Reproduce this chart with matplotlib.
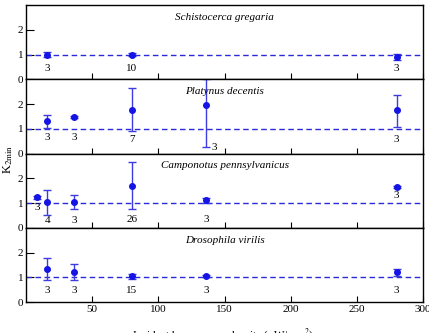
import numpy as np
import matplotlib.pyplot as plt

plt.rcParams['font.family'] = ['Liberation Serif', 'DejaVu Serif']
plt.rcParams['mathtext.fontset'] = 'stix'

species = ['Schistocerca gregaria', 'Platynus decentis',
           'Camponotus pennsylvanicus', 'Drosophila virilis']

# power density, K2min mean, lower/upper error, sample size
x_schis = [16, 80, 280]
y_schis = [1.0, 1.0, 0.9]
lo_schis = [0.1, 0.06, 0.14]
hi_schis = [0.1, 0.06, 0.14]
n_schis = ['3', '10', '3']

x_platy = [16, 36, 80, 136, 280]
y_platy = [1.3, 1.48, 1.76, 1.96, 1.76]
lo_platy = [0.26, 0.05, 0.84, 1.68, 0.68]
hi_platy = [0.26, 0.05, 0.88, 1.04, 0.6]
n_platy = ['3', '3', '7', '3', '3']

x_campo = [8, 16, 36, 80, 136, 280]
y_campo = [1.24, 1.04, 1.06, 1.7, 1.12, 1.64]
lo_campo = [0.06, 0.52, 0.3, 0.94, 0.1, 0.04]
hi_campo = [0.06, 0.48, 0.28, 0.94, 0.1, 0.04]
n_campo = ['3', '4', '3', '26', '3', '3']

x_droso = [16, 36, 80, 136, 280]
y_droso = [1.33, 1.22, 1.04, 1.04, 1.2]
lo_droso = [0.46, 0.33, 0.1, 0.04, 0.14]
hi_droso = [0.46, 0.33, 0.1, 0.04, 0.14]
n_droso = ['3', '3', '15', '3', '3']

# where the sample-size labels go (x, y)
lab_schis = [(16, 0.45), (80, 0.45), (280, 0.45)]
lab_platy = [(16, 0.65), (36, 0.65), (80, 0.55), (142, 0.25), (280, 0.55)]
lab_campo = [(8, 0.8), (16, 0.3), (36, 0.3), (80, 0.35), (136, 0.35), (280, 1.3)]
lab_droso = [(16, 0.45), (36, 0.45), (80, 0.45), (136, 0.45), (280, 0.45)]

panels = [
    (x_schis, y_schis, lo_schis, hi_schis, n_schis, lab_schis),
    (x_platy, y_platy, lo_platy, hi_platy, n_platy, lab_platy),
    (x_campo, y_campo, lo_campo, hi_campo, n_campo, lab_campo),
    (x_droso, y_droso, lo_droso, hi_droso, n_droso, lab_droso),
]

fig, axes = plt.subplots(4, 1, figsize=(4.29, 3.33), dpi=100, sharex=True)
fig.subplots_adjust(left=0.061, right=0.986, top=0.985, bottom=0.093, hspace=0)

for ax, name, (xs, ys, lo, hi, ns, labs) in zip(axes, species, panels):
    ax.axhline(1, color='#2a2ad8', ls=(0, (4, 2.5)), lw=1)
    ax.errorbar(xs, ys, yerr=[lo, hi], fmt='o', color='#1414e6', ms=4,
                ecolor='#3c3ce0', elinewidth=1, capsize=3, capthick=1)
    for (lx, ly), n in zip(labs, ns):
        ax.text(lx, ly, n, ha='center', va='center', fontsize=8)
    ax.text(150, 2.5, name, ha='center', va='center', fontsize=8, style='italic')
    ax.set_xlim(0, 300)
    ax.set_ylim(0, 3)
    ax.set_yticks([0, 1, 2])
    ax.set_xticks([50, 100, 150, 200, 250, 300])
    ax.tick_params(direction='in', length=4, labelsize=8, pad=2)
    ax.tick_params(axis='y', length=6)
    for s in ax.spines.values():
        s.set_linewidth(1)

axes[-1].set_xticklabels(['50', '100', '150', '200', '250', '300'])
fig.text(0.02, 0.52, r'K$_{2\mathrm{min}}$', rotation=90, ha='center', va='center', fontsize=9)
fig.text(0.52, -0.005, r'Incident beam power density ($\mu$W/mm$^{2}$)', ha='center', va='center', fontsize=8)

plt.savefig('out.png', dpi=100)
